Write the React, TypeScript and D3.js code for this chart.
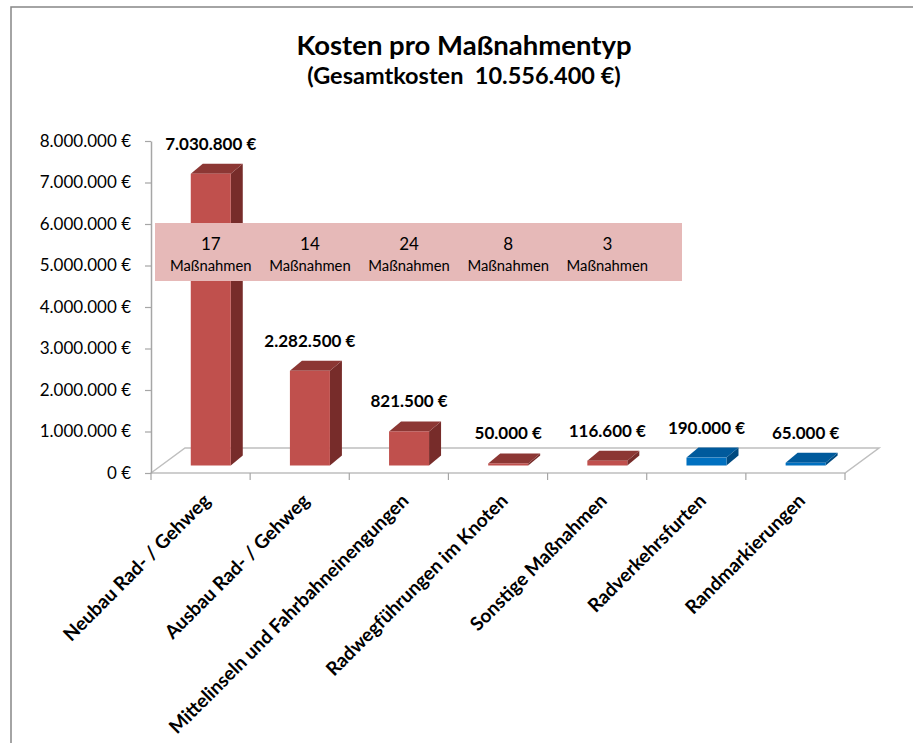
import { useEffect, useRef } from "react";
import { axisLeft, formatLocale, scaleBand, scaleLinear, select } from "d3";

const categories = [
  "Neubau Rad- / Gehweg",
  "Ausbau Rad- / Gehweg",
  "Mittelinseln und Fahrbahneinengungen",
  "Radwegführungen im Knoten",
  "Sonstige Maßnahmen",
  "Radverkehrsfurten",
  "Randmarkierungen",
];
const costs = [7030800, 2282500, 821500, 50000, 116600, 190000, 65000];
const counts = [17, 14, 24, 8, 3];
const yTicks = [0, 1e6, 2e6, 3e6, 4e6, 5e6, 6e6, 7e6, 8e6];

const WIDTH = 913;
const HEIGHT = 743;
const FONT = "Lato, 'Open Sans', sans-serif";

// floor / plot geometry
const X0 = 151;
const X1 = 845;
const Y_ZERO = 473;
const Y_TOP = 141;
const FLOOR_DX = 34;
const FLOOR_DY = -25;
const BAR_W = 40;
const BAR_DX = 12;
const BAR_DY = -10;

const RED = { front: "#C0504D", side: "#772C2A", top: "#8C3734" };
const BLUE = { front: "#0070C0", side: "#004A80", top: "#005A9C" };

const de = formatLocale({ decimal: ",", thousands: ".", grouping: [3], currency: ["", " €"] });
const fmt = (v: number) => de.format(",.0f")(v) + " €";

export default function App() {
  const axisRef = useRef<SVGGElement>(null);

  const x = scaleBand<string>().domain(categories).range([X0, X1]).padding(0);
  const y = scaleLinear().domain([0, 8e6]).range([Y_ZERO, Y_TOP]);

  // bars sit in the middle of the floor depth
  const t = (-FLOOR_DY + BAR_DY) / 2 / -FLOOR_DY;
  const insetX = FLOOR_DX * t;
  const insetY = FLOOR_DY * t;

  useEffect(() => {
    if (!axisRef.current) return;
    const g = select(axisRef.current);
    g.call(
      axisLeft(y)
        .tickValues(yTicks)
        .tickSize(6)
        .tickSizeOuter(0)
        .tickPadding(14)
        .tickFormat((d) => fmt(+d))
    );
    g.select(".domain").attr("stroke", "#A6A6A6").attr("stroke-width", 1.5);
    g.selectAll(".tick line").attr("stroke", "#A6A6A6").attr("stroke-width", 1.2);
    g.selectAll(".tick text")
      .attr("fill", "#000")
      .style("font-family", FONT)
      .style("font-size", "17px");
  }, []);

  const floor = [
    [X0, Y_ZERO],
    [X0 + FLOOR_DX, Y_ZERO + FLOOR_DY],
    [X1 + FLOOR_DX, Y_ZERO + FLOOR_DY],
    [X1, Y_ZERO],
  ];

  const boxLeft = 155;
  const boxRight = 682;

  return (
    <svg
      width={WIDTH}
      height={HEIGHT}
      style={{ position: "absolute", left: 0, top: 0, background: "#fff" }}
    >
      <rect x={11} y={7} width={WIDTH} height={HEIGHT} fill="#fff" stroke="#868686" strokeWidth={1.5} />

      <text x={464} y={55} textAnchor="middle" fontFamily={FONT} fontWeight="bold" fontSize={27.5}>
        Kosten pro Maßnahmentyp
      </text>
      <text
        x={464}
        y={84}
        textAnchor="middle"
        fontFamily={FONT}
        fontWeight="bold"
        fontSize={23.5}
        style={{ whiteSpace: "pre" }}
      >
        (Gesamtkosten  10.556.400 €)
      </text>

      {/* floor */}
      <polygon
        points={floor.map((p) => p.join(",")).join(" ")}
        fill="none"
        stroke="#BFBFBF"
        strokeWidth={1.5}
      />
      {/* x ticks */}
      {[...categories.map((c) => x(c) as number), X1].map((tx, i) => (
        <line key={i} x1={tx} x2={tx} y1={Y_ZERO} y2={Y_ZERO + 7} stroke="#A6A6A6" strokeWidth={1.2} />
      ))}

      <g ref={axisRef} transform={`translate(${X0},0)`} />

      {/* bars */}
      {categories.map((c, i) => {
        const col = i < counts.length ? RED : BLUE;
        const l = (x(c) as number) + (x.bandwidth() - BAR_W) / 2 + insetX;
        const r = l + BAR_W;
        const b = Y_ZERO + insetY;
        const top = y(costs[i]) + insetY;
        const pts = (a: number[][]) => a.map((p) => p.join(",")).join(" ");
        return (
          <g key={c}>
            <polygon
              points={pts([
                [r, top],
                [r + BAR_DX, top + BAR_DY],
                [r + BAR_DX, b + BAR_DY],
                [r, b],
              ])}
              fill={col.side}
            />
            <polygon
              points={pts([
                [l, top],
                [l + BAR_DX, top + BAR_DY],
                [r + BAR_DX, top + BAR_DY],
                [r, top],
              ])}
              fill={col.top}
            />
            <rect x={l} y={top} width={BAR_W} height={Math.max(b - top, 0.5)} fill={col.front} />
          </g>
        );
      })}

      {/* counts box */}
      <rect x={boxLeft} y={223} width={boxRight - boxLeft} height={58} fill="#E6B9B8" />
      {counts.map((n, i) => {
        const cx = (x(categories[i]) as number) + x.bandwidth() / 2 + insetX;
        return (
          <g key={i} fontFamily={FONT} textAnchor="middle" fill="#000">
            <text x={cx} y={250} fontSize={17}>
              {n}
            </text>
            <text x={cx} y={271} fontSize={14.8}>
              Maßnahmen
            </text>
          </g>
        );
      })}

      {/* value labels */}
      {categories.map((c, i) => {
        const cx = (x(c) as number) + x.bandwidth() / 2 + insetX;
        return (
          <text
            key={c}
            x={cx}
            y={y(costs[i]) + insetY - 24}
            textAnchor="middle"
            fontFamily={FONT}
            fontWeight="bold"
            fontSize={17}
          >
            {fmt(costs[i])}
          </text>
        );
      })}

      {/* category labels */}
      {categories.map((c) => {
        const cx = (x(c) as number) + x.bandwidth() / 2;
        return (
          <text
            key={c}
            transform={`translate(${cx + 11},${Y_ZERO + 29}) rotate(-45)`}
            textAnchor="end"
            fontFamily={FONT}
            fontWeight="bold"
            fontSize={19}
          >
            {c}
          </text>
        );
      })}
    </svg>
  );
}
